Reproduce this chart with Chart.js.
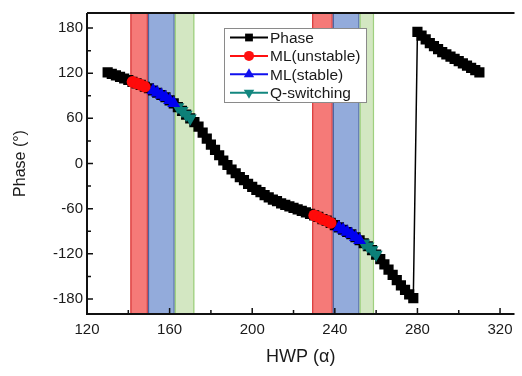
<!DOCTYPE html>
<html><head><meta charset="utf-8">
<script src="https://cdn.jsdelivr.net/npm/chart.js@4.4.1/dist/chart.umd.min.js"></script>
<style>html,body{margin:0;padding:0;background:#fff;overflow:hidden}canvas{display:block}</style>
</head><body>
<canvas id="c" width="522" height="376"></canvas>
<script>
// ---- data ----
const hwp = [130,132,134,136,138,140,142,144,146,148,150,152,154,156,158,160,162,164,166,168,170,172,174,176,178,180,182,184,186,188,190,192,194,196,198,200,202,204,206,208,210,212,214,216,218,220,222,224,226,228,230,232,234,236,238,240,242,244,246,248,250,252,254,256,258,260,262,264,266,268,270,272,274,276,278,280,282,284,286,288,290,292,294,296,298,300,302,304,306,308,310];
const phase = [121,119,117,115,113,111,108.5,106.5,104.5,102,100,97,94,91,88,84,80,75,70,65,60,55,49,41,33,25,18,11,4,-2,-8,-13,-18,-22,-27,-31,-35,-38,-42,-45,-48,-50,-53,-55,-57,-59,-61,-63,-65,-67,-69,-71,-74,-76,-79,-82,-85,-88,-91,-94,-98,-102,-106,-110,-115,-121,-127,-134,-141,-148,-155,-162,-168,-174,-179,175,170,165,160,156,152,148,145,142,139,136,133,130,127,124,121];
const mlUnstableX = [142,144,146,148,230,232,234,236,238];
const mlUnstableY = [108.5,106.5,104.5,102,-69,-71,-74,-76,-79];
const mlStableX = [152,154,156,158,160,162,242,244,246,248,250,252];
const mlStableY = [97,94,91,88,84,80,-85,-88,-91,-94,-98,-102];
const qSwitchX = [164,166,168,170,254,256,258,260];
const qSwitchY = [75,70,65,60,-106,-110,-115,-121];
const bandRed = [[141,149.5],[229,239]];
const bandBlue = [[149.5,162.5],[239,252]];
const bandGreen = [[162.5,172],[252,259]];
const xTicks = [120,160,200,240,280,320];
const yTicks = [-180,-120,-60,0,60,120,180];

const pts = (xs, ys) => xs.map((x, i) => ({x: x, y: ys[i]}));

const FONT = "'Liberation Sans', Arial, sans-serif";

const bandsPlugin = {
  id: 'bands',
  beforeDatasetsDraw(chart) {
    const {ctx, chartArea: a, scales: {x}} = chart;
    const groups = [
      [bandRed, '#f57a78', '#d83a3a'],
      [bandBlue, '#93abdb', '#4a64a0'],
      [bandGreen, '#d3e7c2', '#9fd07f']
    ];
    ctx.save();
    groups.forEach(([bands, fill, edge]) => {
      bands.forEach(([s, e]) => {
        const x0 = x.getPixelForValue(s), x1 = x.getPixelForValue(e);
        ctx.fillStyle = fill;
        ctx.fillRect(x0, a.top, x1 - x0, a.bottom - a.top);
        ctx.strokeStyle = edge;
        ctx.lineWidth = 1.2;
        ctx.beginPath();
        ctx.moveTo(x0 + 0.6, a.top); ctx.lineTo(x0 + 0.6, a.bottom);
        ctx.moveTo(x1 - 0.6, a.top); ctx.lineTo(x1 - 0.6, a.bottom);
        ctx.stroke();
      });
    });
    ctx.restore();
  }
};

const framePlugin = {
  id: 'frame',
  afterDatasetsDraw(chart) {
    const {ctx, chartArea: a, scales: {x, y}} = chart;
    ctx.save();
    ctx.strokeStyle = '#111';
    ctx.lineWidth = 2;
    ctx.beginPath();
    ctx.moveTo(a.left, a.top); ctx.lineTo(a.right, a.top);
    ctx.moveTo(a.left, a.top); ctx.lineTo(a.left, a.bottom);
    ctx.moveTo(a.left - 1, a.bottom); ctx.lineTo(a.right, a.bottom);
    ctx.stroke();
    ctx.lineWidth = 1.5;
    ctx.beginPath();
    for (let i = 0; i < xTicks.length; i++) {
      const px = x.getPixelForValue(xTicks[i]);
      ctx.moveTo(px, a.bottom); ctx.lineTo(px, a.bottom - 6);
      if (i < xTicks.length - 1) {
        const pm = x.getPixelForValue((xTicks[i] + xTicks[i + 1]) / 2);
        ctx.moveTo(pm, a.bottom); ctx.lineTo(pm, a.bottom - 4);
      }
    }
    for (let i = 0; i < yTicks.length; i++) {
      const py = y.getPixelForValue(yTicks[i]);
      ctx.moveTo(a.left, py); ctx.lineTo(a.left + 6, py);
      if (i < yTicks.length - 1) {
        const pm = y.getPixelForValue((yTicks[i] + yTicks[i + 1]) / 2);
        ctx.moveTo(a.left, pm); ctx.lineTo(a.left + 4, pm);
      }
    }
    ctx.stroke();
    ctx.restore();
  }
};

const legendPlugin = {
  id: 'boxLegend',
  afterDraw(chart) {
    const {ctx} = chart;
    const bx = 224, by = 28, bw = 142, bh = 74;
    ctx.save();
    ctx.fillStyle = '#fff';
    ctx.fillRect(bx, by, bw, bh);
    ctx.strokeStyle = '#8a8a8a';
    ctx.lineWidth = 1;
    ctx.strokeRect(bx + 0.5, by + 0.5, bw, bh);
    const order = [3, 0, 1, 2];
    order.forEach((di, row) => {
      const ds = chart.data.datasets[di];
      const cy = by + 9.5 + row * 18.4;
      ctx.strokeStyle = ds.legendColor;
      ctx.lineWidth = 2;
      ctx.beginPath();
      ctx.moveTo(bx + 6, cy); ctx.lineTo(bx + 44, cy);
      ctx.stroke();
      ctx.fillStyle = ds.legendColor;
      Chart.helpers.drawPoint(ctx, {pointStyle: ds.pointStyle, radius: ds.legendRadius, rotation: ds.pointRotation || 0, borderWidth: 0}, bx + 25, cy);
      ctx.fillStyle = '#1a1a1a';
      ctx.font = '15.5px ' + FONT;
      ctx.textBaseline = 'middle';
      ctx.fillText(ds.label, bx + 46, cy + 1);
    });
    ctx.restore();
  }
};

new Chart(document.getElementById('c'), {
  type: 'scatter',
  data: {
    datasets: [
      {label: 'ML(unstable)', data: pts(mlUnstableX, mlUnstableY), pointStyle: 'circle', pointRadius: 5.8, backgroundColor: '#ff0a0a', borderWidth: 0, pointBorderWidth: 0, legendColor: '#ff1010', legendRadius: 5, order: 0},
      {label: 'ML(stable)', data: pts(mlStableX, mlStableY), pointStyle: 'triangle', pointRadius: 7.5, backgroundColor: '#0000f0', borderWidth: 0, pointBorderWidth: 0, legendColor: '#1010ee', legendRadius: 6, order: 0},
      {label: 'Q-switching', data: pts(qSwitchX, qSwitchY), pointStyle: 'triangle', pointRotation: 180, pointRadius: 7.5, backgroundColor: '#0c8078', borderWidth: 0, pointBorderWidth: 0, legendColor: '#13877f', legendRadius: 6, order: 0},
      {label: 'Phase', data: pts(hwp, phase), showLine: true, borderColor: '#000', borderWidth: 1.5, pointStyle: 'rect', pointRadius: 7.2, backgroundColor: '#000', pointBorderWidth: 0, legendColor: '#000', legendRadius: 5.5, order: 1}
    ]
  },
  options: {
    responsive: false,
    animation: false,
    layout: {padding: {top: 6, right: 0, left: 0, bottom: 0}},
    plugins: {legend: {display: false}, tooltip: {enabled: false}},
    scales: {
      x: {
        type: 'linear', min: 120, max: 327,
        afterBuildTicks: s => { s.ticks = xTicks.map(v => ({value: v})); },
        afterFit: s => { s.height = 62; },
        grid: {display: false, drawTicks: false},
        border: {display: false},
        ticks: {color: '#1a1a1a', font: {size: 15, family: FONT}, padding: 7, maxRotation: 0},
        title: {display: true, text: 'HWP (α)', color: '#1a1a1a', font: {size: 18, family: FONT}, padding: {top: 0, bottom: 8}}
      },
      y: {
        type: 'linear', min: -200, max: 200,
        afterBuildTicks: s => { s.ticks = yTicks.map(v => ({value: v})); },
        afterFit: s => { s.width = 87; },
        grid: {display: false, drawTicks: false},
        border: {display: false},
        ticks: {color: '#1a1a1a', font: {size: 15, family: FONT}, padding: 4},
        title: {display: true, text: 'Phase (°)', color: '#1a1a1a', font: {size: 16, family: FONT}, padding: {top: 11, bottom: 0}}
      }
    }
  },
  plugins: [bandsPlugin, framePlugin, legendPlugin]
});
</script>
</body></html>
